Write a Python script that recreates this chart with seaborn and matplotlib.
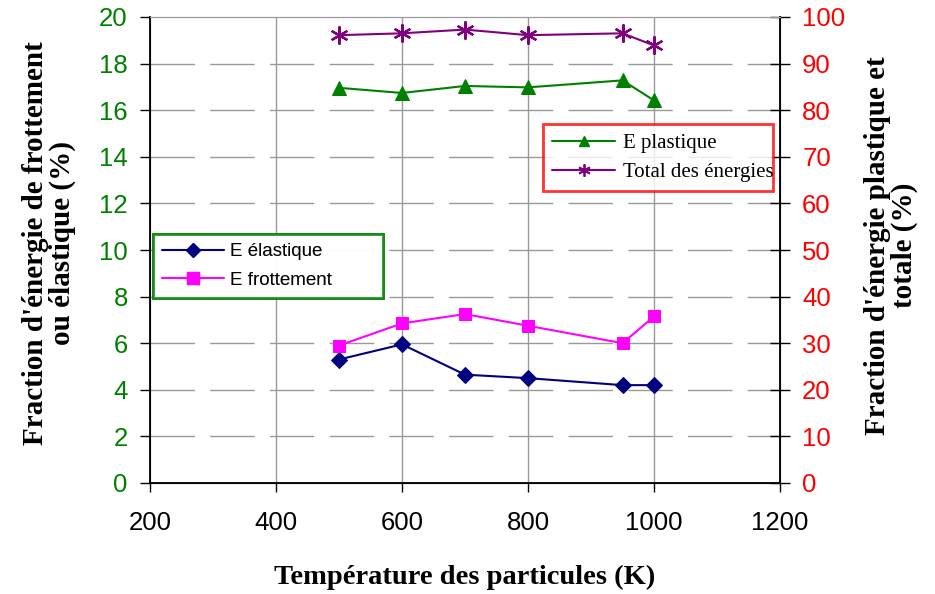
import matplotlib
matplotlib.use("Agg")
import matplotlib.pyplot as plt
import seaborn as sns
import pandas as pd
from matplotlib.lines import Line2D

temperature = [500, 600, 700, 800, 950, 1000]
e_elastique = [5.3, 5.95, 4.65, 4.5, 4.2, 4.2]
e_frottement = [5.9, 6.85, 7.25, 6.75, 6.0, 7.15]
e_plastique = [84.8, 83.7, 85.2, 84.9, 86.4, 82.1]
total_energies = [96.1, 96.5, 97.3, 96.1, 96.5, 93.9]

x_ticks = [200, 400, 600, 800, 1000, 1200]
left_ticks = [0, 2, 4, 6, 8, 10, 12, 14, 16, 18, 20]
right_ticks = [0, 10, 20, 30, 40, 50, 60, 70, 80, 90, 100]

sns.set_style("white")
plt.rcParams['font.family'] = ['Liberation Sans', 'DejaVu Sans']
plt.rcParams['text.color'] = 'black'
plt.rcParams['axes.labelcolor'] = 'black'

df = pd.DataFrame({"T": temperature, "el": e_elastique, "fr": e_frottement,
                   "pl": e_plastique, "tot": total_energies})

fig = plt.figure(figsize=(9.35, 5.94), dpi=100)
W, H = 935, 594
L, R, T, B = 150, 780, 17, 483
ax = fig.add_axes([L/W, 1-B/H, (R-L)/W, (B-T)/H])
ax2 = ax.twinx()

c_el, c_fr, c_pl, c_tot = "#000080", "#FF00FF", "#008000", "#800080"
star = (6, 2, 0)

sns.lineplot(data=df, x="T", y="el", ax=ax, color=c_el, marker="D", markersize=8,
             markeredgecolor=c_el, linewidth=1.5)
sns.lineplot(data=df, x="T", y="fr", ax=ax, color=c_fr, marker="s", markersize=9,
             markeredgecolor=c_fr, linewidth=1.5)
sns.lineplot(data=df, x="T", y="pl", ax=ax2, color=c_pl, marker="^", markersize=10,
             markeredgecolor=c_pl, linewidth=1.5)
sns.lineplot(data=df, x="T", y="tot", ax=ax2, color=c_tot, marker=star, markersize=13,
             markeredgecolor=c_tot, markeredgewidth=1.6, linewidth=1.5)

ax.set_xlim(200, 1200)
ax.set_ylim(0, 20)
ax2.set_ylim(0, 100)
ax.set_xticks(x_ticks)
ax.set_yticks(left_ticks)
ax2.set_yticks(right_ticks)

ax.grid(False)
ax2.grid(False)
for v in left_ticks[1:-1]:
    ax.axhline(v, color="#999999", lw=1.0, ls=(0, (32, 11)), zorder=0)
for v in x_ticks[1:-1]:
    ax.axvline(v, color="#999999", lw=1.0, zorder=0)

for sp in ["left", "bottom", "right"]:
    ax.spines[sp].set_color("black")
    ax2.spines[sp].set_color("black")
    ax2.spines[sp].set_linewidth(1.3)
ax.spines["top"].set_color("#999999")
ax2.spines["top"].set_color("#999999")

ax.tick_params(axis="y", colors="black", labelcolor="#008000", labelsize=18.5,
               direction="out", length=7, left=True, width=1, pad=9)
ax.tick_params(axis="x", colors="black", labelcolor="black", labelsize=18.5,
               direction="out", length=6.5, bottom=True, width=1, pad=14)
ax2.tick_params(axis="y", colors="black", labelcolor="#FF0000", labelsize=18.5,
                direction="inout", length=14, right=True, width=1, pad=9)

serif = ['Liberation Serif', 'DejaVu Serif']
ax.set_xlabel("Température des particules (K)", fontsize=20.5, fontweight="bold",
              family=serif, color="black")
ax.xaxis.set_label_coords(0.5, -(590 - B) / (B - T), transform=ax.transAxes)
ax.xaxis.label.set_va("bottom")
ax.set_ylabel("Fraction d'énergie de frottement\nou élastique (%)", fontsize=21,
              fontweight="bold", family=serif, linespacing=1.0, color="black")
ax.yaxis.set_label_coords((76 - L) / (R - L), 0.515)
ax2.set_ylabel("Fraction d'énergie plastique et\ntotale (%)", fontsize=21,
               fontweight="bold", family=serif, linespacing=1.0, rotation=90,
               color="black")
ax2.yaxis.set_label_coords((864 - L) / (R - L), 0.51)

h1 = [Line2D([], [], color=c_el, marker="D", markersize=7, lw=1.5),
      Line2D([], [], color=c_fr, marker="s", markersize=8, lw=1.5)]
leg1 = ax.legend(h1, ["E élastique", "E frottement"], loc="upper left",
                 bbox_to_anchor=((153-L)/(R-L), (B-234)/(B-T), (383-153)/(R-L), 0),
                 mode="expand", fontsize=13.5, labelcolor="black",
                 frameon=True, fancybox=False, edgecolor="#008000",
                 handlelength=3.3, borderpad=0.5, labelspacing=0.6,
                 handletextpad=0.3, borderaxespad=0)
leg1.get_frame().set_linewidth(2)
ax.add_artist(leg1)

h2 = [Line2D([], [], color=c_pl, marker="^", markersize=7, lw=1.5),
      Line2D([], [], color=c_tot, marker=star, markersize=9, markeredgewidth=1.3, lw=1.5)]
leg2 = ax2.legend(h2, ["E plastique", "Total des énergies"], loc="upper left",
                  bbox_to_anchor=((543-L)/(R-L), (B-124)/(B-T), (773-543)/(R-L), 0),
                  mode="expand", prop={"family": serif, "size": 15}, labelcolor="black",
                  frameon=True, fancybox=False, edgecolor="#FF0000",
                  handlelength=3.0, borderpad=0.45, labelspacing=0.45,
                  handletextpad=0.4, borderaxespad=0)
leg2.get_frame().set_linewidth(2)

fig.savefig("out.png", dpi=100)
